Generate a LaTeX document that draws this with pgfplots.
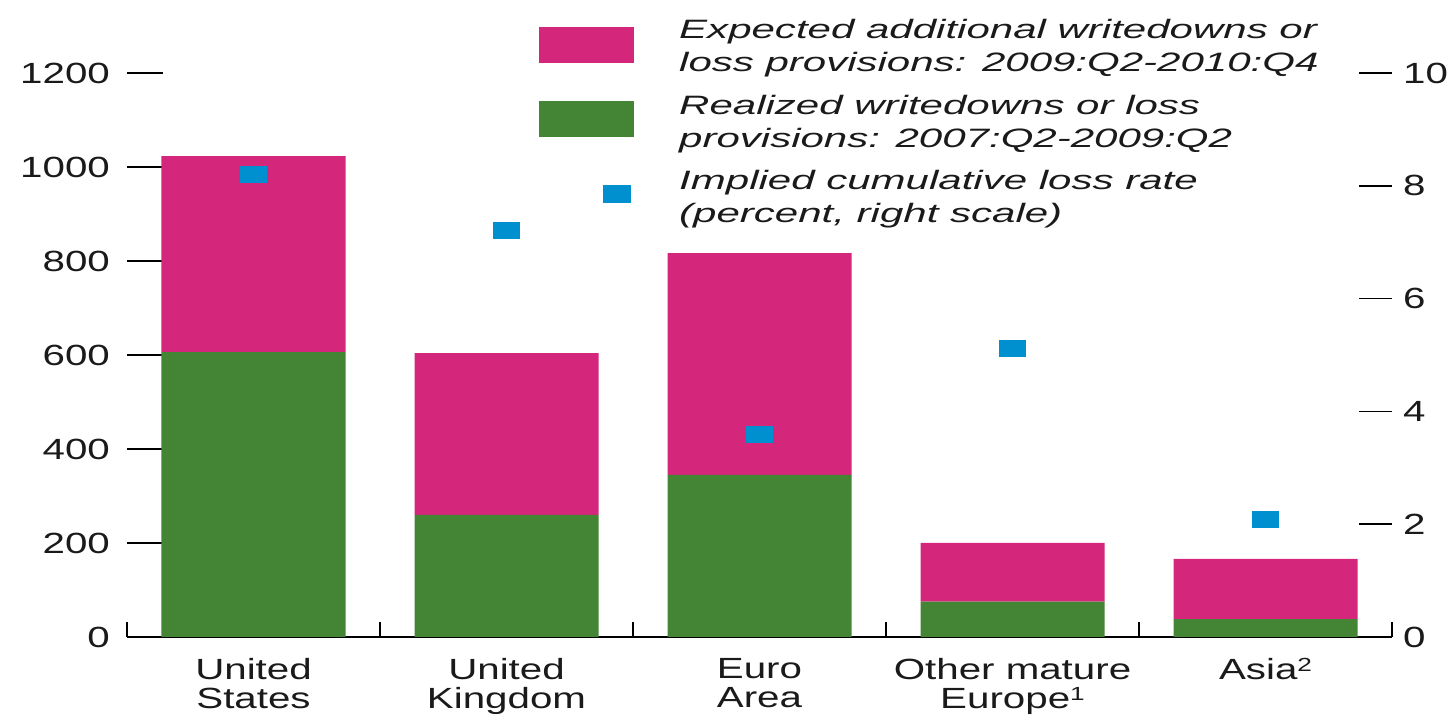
\documentclass[border=0pt]{standalone}
\usepackage{fontspec}
\setmainfont{Liberation Sans}[FakeStretch=1.38]
\newfontfamily\legfont{Liberation Sans}[FakeStretch=1.58]
\usepackage{pgfplots}
\pgfplotsset{compat=1.18}
\definecolor{pinkc}{HTML}{D4267A}
\definecolor{greenc}{HTML}{448535}
\definecolor{bluec}{HTML}{0090D0}
\definecolor{txt}{HTML}{1A1A1A}
\pgfdeclareplotmark{rect}{\pgfpathrectangle{\pgfpoint{-6.75pt}{-4.25pt}}{\pgfpoint{13.5pt}{8.5pt}}\pgfusepathqfill}
\newcommand{\sups}[1]{\raisebox{4pt}{\fontsize{9.5}{9.5}\selectfont #1}}
\begin{document}
\fontsize{14.6}{14.5}\selectfont
\begin{tikzpicture}
\begin{axis}[
  at={(0,0)}, anchor=south west,
  width=632.5pt, height=282pt, scale only axis,
  xmin=-0.5, xmax=4.5, ymin=0, ymax=1200,
  ybar stacked, bar width=92pt,
  axis lines*=left,
  y axis line style={draw=none},
  x axis line style={line width=1.1pt, black},
  tick align=inside,
  xtick={0,1,2,3,4},
  xticklabels={United\\States, United\\Kingdom, Euro\\Area, Other mature\\Europe\sups{1}, Asia\sups{2}},
  xticklabel style={align=center, text=txt, font=\fontsize{14.6}{14.5}\selectfont, yshift=-5.5pt},
  major x tick style={draw=none},
  minor xtick={-0.5,0.5,1.5,2.5,3.5,4.5},
  minor tick length=7.5pt,
  minor x tick style={line width=0.9pt, black},
  ytick={0,200,...,1200},
  major tick length=18pt,
  major y tick style={line width=0.7pt, black},
  yticklabel style={text=txt, xshift=-3.5pt},
  /pgf/number format/assume math mode=true,
  /pgf/number format/1000 sep={},
  legend style={at={(0.3257,1.0957)}, anchor=north west, draw=none, fill=none,
    inner sep=0pt, column sep=22.5pt, row sep=9.5pt,
    nodes={inner sep=0pt, text=txt, font=\legfont\itshape\fontsize{13.3}{16.5}\selectfont},
    cells={align=left}},
  legend cell align=left,
]
\addplot[fill=greenc, draw=none, forget plot] coordinates {(0,606) (1,260) (2,345) (3,75) (4,38)};
\addplot[fill=pinkc, draw=none, forget plot] coordinates {(0,417) (1,344) (2,472) (3,125) (4,128)};
\addlegendimage{legend image code/.code={\path[draw=none, fill=none] (0pt,-8.75pt) rectangle (47pt,8.75pt); \fill[pinkc] (0pt,-7.25pt) rectangle (47pt,10.25pt);}}
\addlegendentry{Expected additional writedowns or\\loss provisions: 2009:Q2-2010:Q4}
\addlegendimage{legend image code/.code={\path[draw=none, fill=none] (0pt,-8.75pt) rectangle (47pt,8.75pt); \fill[greenc] (0pt,-6.75pt) rectangle (47pt,10.75pt);}}
\addlegendentry{Realized writedowns or loss\\provisions: 2007:Q2-2009:Q2}
\addlegendimage{legend image code/.code={\path[draw=none, fill=none] (0pt,-8.75pt) rectangle (47pt,8.75pt); \fill[bluec] (32pt,-1.75pt) rectangle (45.5pt,6.75pt);}}
\addlegendentry{Implied cumulative loss rate\\(percent, right scale)}
\end{axis}
\begin{axis}[
  at={(0,0)}, anchor=south west,
  width=632.5pt, height=282pt, scale only axis,
  xmin=-0.5, xmax=4.5, ymin=0, ymax=10,
  axis y line*=right, axis x line=none,
  y axis line style={draw=none},
  tick align=inside,
  ytick={0,2,...,10},
  major tick length=16.5pt,
  major y tick style={line width=0.8pt, black},
  yticklabel style={text=txt, xshift=0.5pt},
  /pgf/number format/assume math mode=true,
]
\addplot[only marks, mark=rect, color=bluec] coordinates {(0,8.2) (1,7.21) (2,3.59) (3,5.11) (4,2.09)};
\end{axis}
\pgfresetboundingbox
\path[use as bounding box] (-63.5pt,-39.5pt) rectangle (661.5pt,318.5pt);
\end{tikzpicture}
\end{document}
